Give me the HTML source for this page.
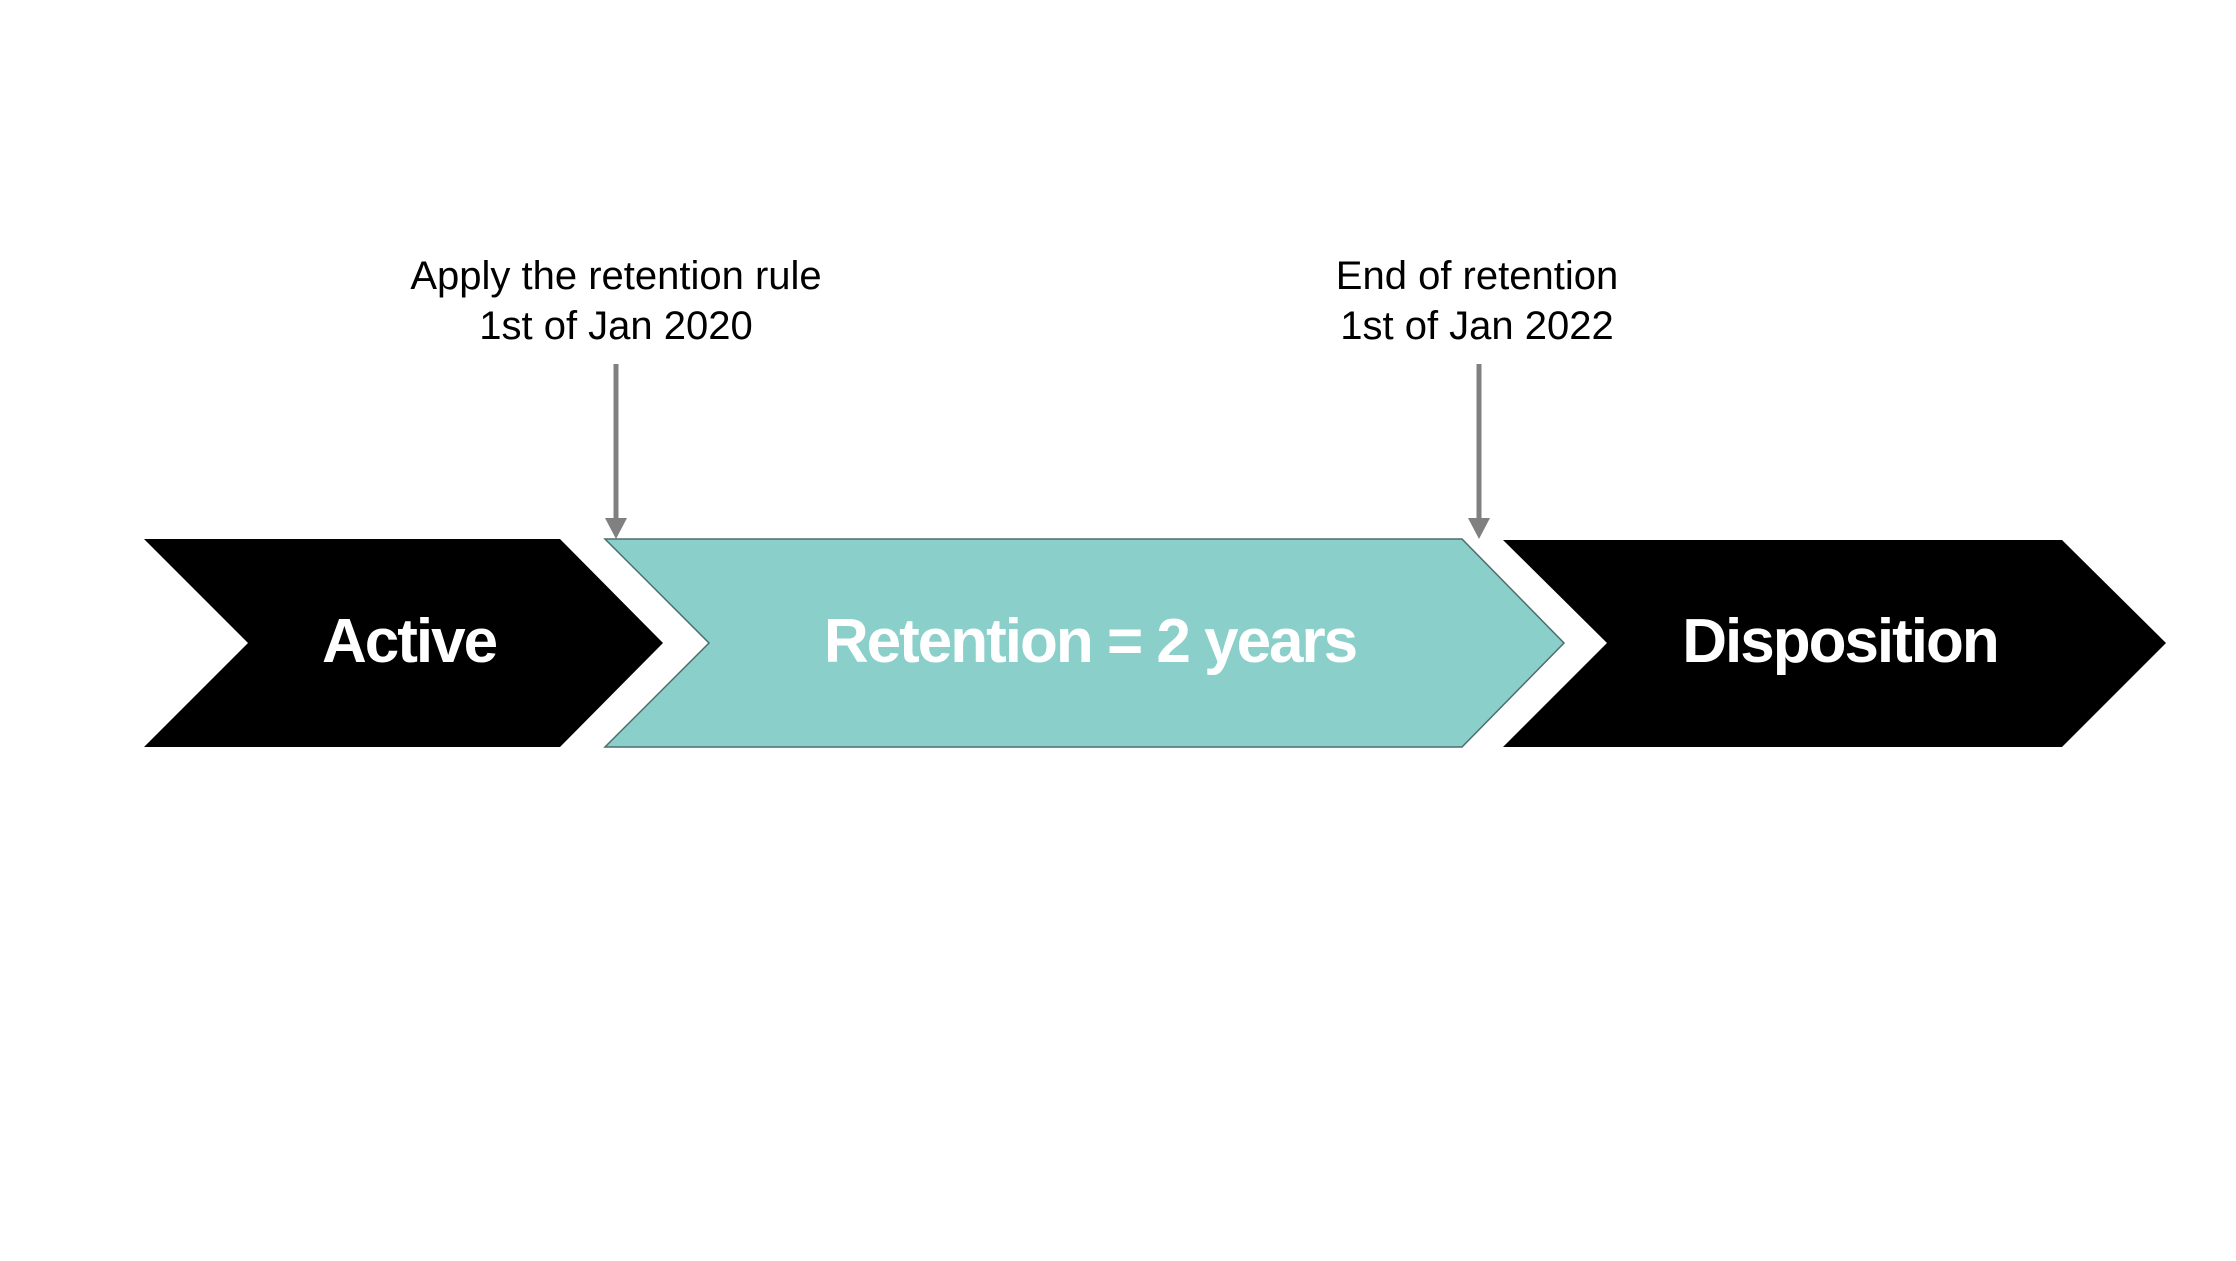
<!DOCTYPE html>
<html><head><style>
html,body{margin:0;padding:0;background:#fff;}
body{width:2236px;height:1256px;overflow:hidden;}
text{font-family:"Liberation Sans",sans-serif;}
</style></head><body>
<svg width="2236" height="1256" xmlns="http://www.w3.org/2000/svg">
<polygon points="144,539 560,539 663,643 560,747 144,747 248,643" fill="#000"/>
<polygon points="605,539 1462,539 1564,643 1462,747 605,747 709,643" fill="#8bcfca" stroke="#4a6e6c" stroke-width="1.5"/>
<polygon points="1503,540 2062,540 2166,643 2062,747 1503,747 1607,643" fill="#000"/>
<line x1="616" y1="364" x2="616" y2="520" stroke="#808080" stroke-width="5"/>
<polygon points="605,518 627,518 616,539" fill="#808080"/>
<line x1="1479" y1="364" x2="1479" y2="520" stroke="#808080" stroke-width="5"/>
<polygon points="1468,518 1490,518 1479,539" fill="#808080"/>
<g font-size="40" fill="#000" text-anchor="middle" letter-spacing="0">
<text x="616" y="289">Apply the retention rule</text>
<text x="616" y="339">1st of Jan 2020</text>
<text x="1477" y="289">End of retention</text>
<text x="1477" y="339">1st of Jan 2022</text>
</g>
<g font-size="62" font-weight="bold" fill="#fff" text-anchor="middle" letter-spacing="-2">
<text x="409" y="662">Active</text>
<text x="1090" y="662">Retention = 2 years</text>
<text x="1840" y="662">Disposition</text>
</g>
</svg>
</body></html>
